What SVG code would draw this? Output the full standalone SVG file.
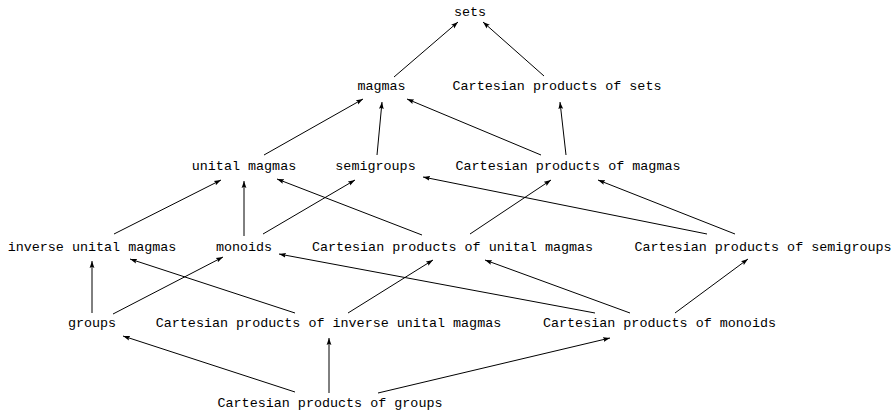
<svg xmlns="http://www.w3.org/2000/svg" width="895" height="410" viewBox="0 0 895 410">
<style>
text{font-family:"Liberation Mono","DejaVu Sans Mono",monospace;font-size:13.4px;fill:#000;text-anchor:middle}
.e line{stroke:#000;stroke-width:1;marker-end:url(#ah)}
</style>
<defs>
<marker id="ah" markerWidth="8" markerHeight="6" refX="7" refY="3" orient="auto" markerUnits="userSpaceOnUse">
<path d="M0,0.6 L7,3 L0,5.4 L1.2,3 Z" fill="#000"/>
</marker>
</defs>
<rect width="895" height="410" fill="#fff"/>
<g class="e" id="connectors">
<line x1="394" y1="77" x2="458" y2="22"/>
<line x1="544" y1="76" x2="483" y2="22"/>
<line x1="264" y1="155" x2="363" y2="99"/>
<line x1="377" y1="155" x2="382" y2="102"/>
<line x1="541" y1="155" x2="407" y2="99"/>
<line x1="566" y1="155" x2="560" y2="102"/>
<line x1="114" y1="234" x2="221" y2="180"/>
<line x1="244" y1="236" x2="244" y2="181"/>
<line x1="263" y1="234" x2="355" y2="180"/>
<line x1="422" y1="235" x2="277" y2="179"/>
<line x1="470" y1="234" x2="551" y2="180"/>
<line x1="707" y1="234" x2="423" y2="177"/>
<line x1="735" y1="234" x2="598" y2="180"/>
<line x1="92" y1="313" x2="92" y2="261"/>
<line x1="113" y1="314" x2="223" y2="257"/>
<line x1="295" y1="313" x2="130" y2="259"/>
<line x1="348" y1="313" x2="433" y2="260"/>
<line x1="595" y1="313" x2="279" y2="254"/>
<line x1="630" y1="313" x2="485" y2="260"/>
<line x1="675" y1="313" x2="748" y2="259"/>
<line x1="295" y1="392" x2="123" y2="336"/>
<line x1="329" y1="393" x2="329" y2="338"/>
<line x1="378" y1="393" x2="610" y2="338"/>
</g>
<g id="n-sets"><text x="470" y="16">sets</text></g>
<g id="n-magmas"><text x="381.5" y="89.5">magmas</text></g>
<g id="n-cp-sets"><text x="557" y="89.5">Cartesian products of sets</text></g>
<g id="n-unital-magmas"><text x="244" y="169.5">unital magmas</text></g>
<g id="n-semigroups"><text x="375.5" y="169.5">semigroups</text></g>
<g id="n-cp-magmas"><text x="568" y="169.5">Cartesian products of magmas</text></g>
<g id="n-inverse-unital-magmas"><text x="92" y="250.5">inverse unital magmas</text></g>
<g id="n-monoids"><text x="244" y="250.5">monoids</text></g>
<g id="n-cp-unital-magmas"><text x="452.5" y="250.5">Cartesian products of unital magmas</text></g>
<g id="n-cp-semigroups"><text x="763" y="250.5">Cartesian products of semigroups</text></g>
<g id="n-groups"><text x="92" y="326.5">groups</text></g>
<g id="n-cp-inverse-unital-magmas"><text x="328.5" y="326.5">Cartesian products of inverse unital magmas</text></g>
<g id="n-cp-monoids"><text x="659.5" y="326.5">Cartesian products of monoids</text></g>
<g id="n-cp-groups"><text x="330" y="406.5">Cartesian products of groups</text></g>
</svg>
